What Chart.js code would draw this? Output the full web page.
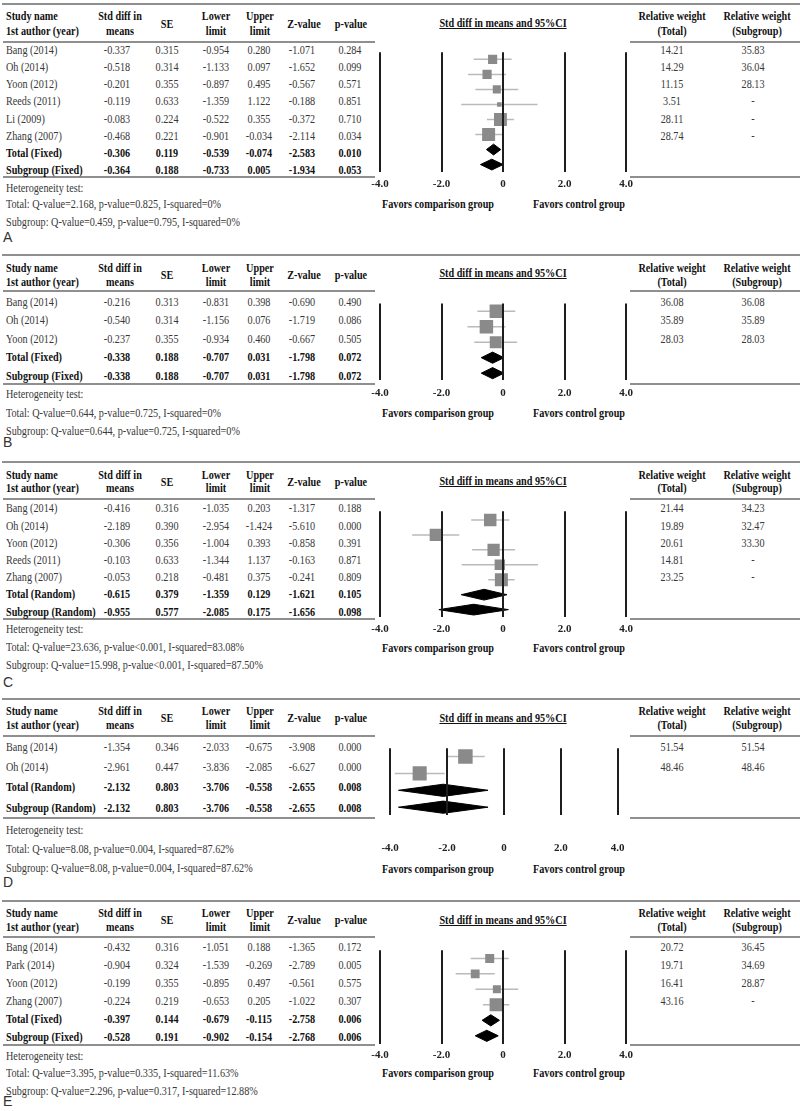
<!DOCTYPE html>
<html><head><meta charset="utf-8">
<script src="https://cdn.jsdelivr.net/npm/chart.js@4.4.1/dist/chart.umd.min.js"></script>
<style>
html,body{margin:0;padding:0;background:#fff;}
#page{position:relative;width:800px;height:1111px;overflow:hidden;font-family:"Liberation Serif","Times New Roman",serif;color:#383838;}
.t{position:absolute;white-space:nowrap;font-size:12px;line-height:1;}
.b{font-weight:bold;color:#111;}
.u{text-decoration:underline;}
.lab{font-family:"Liberation Sans",Arial,sans-serif;font-size:14px;color:#333;}
.hr{position:absolute;height:2px;background:#8f8f8f;}
canvas{position:absolute;}
</style></head><body><div id="page"></div>
<script>
// ---------- axis ticks ----------
const xTickValues = [-4, -2, 0, 2, 4];
const xTickLabels = ['-4.0', '-2.0', '0', '2.0', '4.0'];

// ---------- Panel A ----------
const namesA = ['Bang (2014)', 'Oh (2014)', 'Yoon (2012)', 'Reeds (2011)', 'Li (2009)', 'Zhang (2007)', 'Total (Fixed)', 'Subgroup (Fixed)'];
const estA = [-0.337, -0.518, -0.201, -0.119, -0.083, -0.468, -0.306, -0.364];
const seA = [0.315, 0.314, 0.355, 0.633, 0.224, 0.221, 0.119, 0.188];
const lowerA = [-0.954, -1.133, -0.897, -1.359, -0.522, -0.901, -0.539, -0.733];
const upperA = [0.280, 0.097, 0.495, 1.122, 0.355, -0.034, -0.074, 0.005];
const zA = [-1.071, -1.652, -0.567, -0.188, -0.372, -2.114, -2.583, -1.934];
const pA = [0.284, 0.099, 0.571, 0.851, 0.710, 0.034, 0.010, 0.053];
const wTotalA = [14.21, 14.29, 11.15, 3.51, 28.11, 28.74];
const wSubA = [35.83, 36.04, 28.13, null, null, null];
const hetA = ['Total: Q-value=2.168, p-value=0.825, I-squared=0%', 'Subgroup: Q-value=0.459, p-value=0.795, I-squared=0%'];

// ---------- Panel B ----------
const namesB = ['Bang (2014)', 'Oh (2014)', 'Yoon (2012)', 'Total (Fixed)', 'Subgroup (Fixed)'];
const estB = [-0.216, -0.540, -0.237, -0.338, -0.338];
const seB = [0.313, 0.314, 0.355, 0.188, 0.188];
const lowerB = [-0.831, -1.156, -0.934, -0.707, -0.707];
const upperB = [0.398, 0.076, 0.460, 0.031, 0.031];
const zB = [-0.690, -1.719, -0.667, -1.798, -1.798];
const pB = [0.490, 0.086, 0.505, 0.072, 0.072];
const wTotalB = [36.08, 35.89, 28.03];
const wSubB = [36.08, 35.89, 28.03];
const hetB = ['Total: Q-value=0.644, p-value=0.725, I-squared=0%', 'Subgroup: Q-value=0.644, p-value=0.725, I-squared=0%'];

// ---------- Panel C ----------
const namesC = ['Bang (2014)', 'Oh (2014)', 'Yoon (2012)', 'Reeds (2011)', 'Zhang (2007)', 'Total (Random)', 'Subgroup (Random)'];
const estC = [-0.416, -2.189, -0.306, -0.103, -0.053, -0.615, -0.955];
const seC = [0.316, 0.390, 0.356, 0.633, 0.218, 0.379, 0.577];
const lowerC = [-1.035, -2.954, -1.004, -1.344, -0.481, -1.359, -2.085];
const upperC = [0.203, -1.424, 0.393, 1.137, 0.375, 0.129, 0.175];
const zC = [-1.317, -5.610, -0.858, -0.163, -0.241, -1.621, -1.656];
const pC = [0.188, 0.000, 0.391, 0.871, 0.809, 0.105, 0.098];
const wTotalC = [21.44, 19.89, 20.61, 14.81, 23.25];
const wSubC = [34.23, 32.47, 33.30, null, null];
const hetC = ['Total: Q-value=23.636, p-value<0.001, I-squared=83.08%', 'Subgroup: Q-value=15.998, p-value<0.001, I-squared=87.50%'];

// ---------- Panel D ----------
const namesD = ['Bang (2014)', 'Oh (2014)', 'Total (Random)', 'Subgroup (Random)'];
const estD = [-1.354, -2.961, -2.132, -2.132];
const seD = [0.346, 0.447, 0.803, 0.803];
const lowerD = [-2.033, -3.836, -3.706, -3.706];
const upperD = [-0.675, -2.085, -0.558, -0.558];
const zD = [-3.908, -6.627, -2.655, -2.655];
const pD = [0.000, 0.000, 0.008, 0.008];
const wTotalD = [51.54, 48.46];
const wSubD = [51.54, 48.46];
const hetD = ['Total: Q-value=8.08, p-value=0.004, I-squared=87.62%', 'Subgroup: Q-value=8.08, p-value=0.004, I-squared=87.62%'];

// ---------- Panel E ----------
const namesE = ['Bang (2014)', 'Park (2014)', 'Yoon (2012)', 'Zhang (2007)', 'Total (Fixed)', 'Subgroup (Fixed)'];
const estE = [-0.432, -0.904, -0.199, -0.224, -0.397, -0.528];
const seE = [0.316, 0.324, 0.355, 0.219, 0.144, 0.191];
const lowerE = [-1.051, -1.539, -0.895, -0.653, -0.679, -0.902];
const upperE = [0.188, -0.269, 0.497, 0.205, -0.115, -0.154];
const zE = [-1.365, -2.789, -0.561, -1.022, -2.758, -2.768];
const pE = [0.172, 0.005, 0.575, 0.307, 0.006, 0.006];
const wTotalE = [20.72, 19.71, 16.41, 43.16];
const wSubE = [36.45, 34.69, 28.87, null];
const hetE = ['Total: Q-value=3.395, p-value=0.335, I-squared=11.63%', 'Subgroup: Q-value=2.296, p-value=0.317, I-squared=12.88%'];

// ---------- assemble ----------
const panels = [
  {letter: 'A', names: namesA, est: estA, se: seA, lower: lowerA, upper: upperA, z: zA, p: pA, wTotal: wTotalA, wSub: wSubA, het: hetA},
  {letter: 'B', names: namesB, est: estB, se: seB, lower: lowerB, upper: upperB, z: zB, p: pB, wTotal: wTotalB, wSub: wSubB, het: hetB},
  {letter: 'C', names: namesC, est: estC, se: seC, lower: lowerC, upper: upperC, z: zC, p: pC, wTotal: wTotalC, wSub: wSubC, het: hetC},
  {letter: 'D', names: namesD, est: estD, se: seD, lower: lowerD, upper: upperD, z: zD, p: pD, wTotal: wTotalD, wSub: wSubD, het: hetD},
  {letter: 'E', names: namesE, est: estE, se: seE, lower: lowerE, upper: upperE, z: zE, p: pE, wTotal: wTotalE, wSub: wSubE, het: hetE}
];

// layout (page pixel positions) per panel
const layouts = [
  {top: 4,   h1: 16,  h2: 31,  hLine: 42,  tFirst: 50,    tLast: 170,   bLine: 177,  pTop: 43,  pBot: 172,  pFirst: 50.7,  pLast: 164,   tick: 184,  fav: 204,  het: [188, 204, 222],   label: 237,  sq: 13,   title: 23},
  {top: 255, h1: 268, h2: 282, hLine: 291, tFirst: 301.7, tLast: 375.7, bLine: 384,  pTop: 294, pBot: 380,  pFirst: 302.7, pLast: 372.3, tick: 393,  fav: 413,  het: [394, 413, 431],   label: 442,  sq: 13.5, title: 273},
  {top: 462, h1: 475, h2: 488, hLine: 499, tFirst: 508.3, tLast: 611.7, bLine: 619,  pTop: 502, pBot: 617,  pFirst: 511.5, pLast: 609,   tick: 629,  fav: 648,  het: [629, 647, 665],   label: 682,  sq: 13,   title: 481},
  {top: 699, h1: 711, h2: 725, hLine: 736, tFirst: 746.7, tLast: 807.7, bLine: 818,  pTop: 738, pBot: 815,  pFirst: 747.5, pLast: 806,   tick: 848,  fav: 869,  het: [830, 849, 868],   label: 882,  sq: 14.5, title: 718},
  {top: 901, h1: 913, h2: 927, hLine: 937, tFirst: 947.3, tLast: 1037,  bLine: 1045, pTop: 941, pBot: 1044, pFirst: 950,   pLast: 1035,  tick: 1055, fav: 1073, het: [1056, 1073, 1091], label: 1101, sq: 13,   title: 920}
];

const page = document.getElementById('page');
const colX = [117, 167, 216, 259, 302, 350];
const wColX = [672, 753];

function txt(s, x, y, align, cls) {
  const d = document.createElement('div');
  d.className = 't' + (cls ? ' ' + cls : '');
  d.textContent = s;
  d.style.left = x + 'px';
  d.style.top = y + 'px';
  let tx = '0', org = '0 50%';
  if (align === 'center') { tx = '-50%'; org = '50% 50%'; }
  else if (align === 'right') { tx = '-100%'; org = '100% 50%'; }
  d.style.transformOrigin = org;
  d.style.transform = 'translate(' + tx + ', -50%) scaleX(0.85)';
  page.appendChild(d);
  return d;
}
function hr(x1, x2, y) {
  const d = document.createElement('div');
  d.className = 'hr';
  d.style.left = x1 + 'px';
  d.style.width = (x2 - x1) + 'px';
  d.style.top = (y - 1) + 'px';
  page.appendChild(d);
}

function drawPanel(P, L) {
  const n = P.names.length;
  const nS = P.wTotal.length;
  // rules
  hr(2, 800, L.top);
  hr(3, 375, L.hLine); hr(630, 800, L.hLine);
  hr(3, 375, L.bLine); hr(630, 800, L.bLine);
  // headers
  const mid = (L.h1 + L.h2) / 2;
  txt('Study name', 6, L.h1, 'left', 'b');
  txt('1st author (year)', 6, L.h2, 'left', 'b');
  txt('Std diff in', 120, L.h1, 'center', 'b');
  txt('means', 120, L.h2, 'center', 'b');
  txt('SE', 167, mid, 'center', 'b');
  txt('Lower', 216, L.h1, 'center', 'b');
  txt('limit', 216, L.h2, 'center', 'b');
  txt('Upper', 260, L.h1, 'center', 'b');
  txt('limit', 260, L.h2, 'center', 'b');
  txt('Z-value', 304, mid, 'center', 'b');
  txt('p-value', 351, mid, 'center', 'b');
  txt('Relative weight', 672, L.h1, 'center', 'b');
  txt('(Total)', 672, L.h2, 'center', 'b');
  txt('Relative weight', 757, L.h1, 'center', 'b');
  txt('(Subgroup)', 757, L.h2, 'center', 'b');
  txt('Std diff in means and 95%CI', 503, L.title, 'center', 'b u');
  // rows
  const ts = (L.tLast - L.tFirst) / (n - 1);
  for (let i = 0; i < n; i++) {
    const y = L.tFirst + i * ts;
    const cls = i >= nS ? 'b' : '';
    txt(P.names[i], 6, y, 'left', cls);
    const vals = [P.est[i], P.se[i], P.lower[i], P.upper[i], P.z[i], P.p[i]];
    vals.forEach((v, c) => txt(v.toFixed(3), colX[c], y, 'center', cls));
    if (i < nS) {
      txt(P.wTotal[i].toFixed(2), wColX[0], y, 'center');
      txt(P.wSub[i] === null ? '-' : P.wSub[i].toFixed(2), wColX[1], y, 'center');
    }
  }
  // heterogeneity
  txt('Heterogeneity test:', 6, L.het[0], 'left');
  txt(P.het[0], 6, L.het[1], 'left');
  txt(P.het[1], 6, L.het[2], 'left');
  // favors
  txt('Favors comparison group', 438, L.fav, 'center', 'b');
  txt('Favors control group', 579, L.fav, 'center', 'b');
  // letter
  const lb = document.createElement('div');
  lb.className = 't lab';
  lb.textContent = P.letter;
  lb.style.left = '3px';
  lb.style.top = L.label + 'px';
  lb.style.transform = 'translateY(-50%)';
  page.appendChild(lb);

  // ---------- chart ----------
  const cv = document.createElement('canvas');
  const left = 355, width = 296;
  const height = Math.round(L.tick + 14 - L.pTop);
  cv.width = width; cv.height = height;
  cv.style.left = left + 'px'; cv.style.top = L.pTop + 'px';
  cv.style.width = width + 'px'; cv.style.height = height + 'px';
  page.appendChild(cv);

  const ps = (L.pLast - L.pFirst) / (n - 1);
  const yMin = (L.pTop - L.pFirst) / ps;
  const yMax = (L.pBot - L.pFirst) / ps;
  const maxW = Math.max(...P.wTotal);
  const sqData = [], radii = [];
  for (let i = 0; i < nS; i++) {
    sqData.push({x: P.est[i], y: i});
    radii.push(L.sq * Math.sqrt(P.wTotal[i] / maxW) / (2 * Math.SQRT1_2));
  }
  const datasets = [{
    type: 'scatter', data: sqData, pointStyle: 'rect', pointRadius: radii,
    backgroundColor: '#8a8a8a', borderWidth: 0, order: 0
  }];
  for (let i = 0; i < nS; i++) {
    datasets.push({
      type: 'line', data: [{x: P.lower[i], y: i}, {x: P.upper[i], y: i}],
      borderColor: '#bababa', borderWidth: 1.5, pointRadius: 0, fill: false, order: 2
    });
  }
  const dh = 0.36;
  for (let k = nS; k < n; k++) {
    datasets.push({
      type: 'line',
      data: [{x: P.lower[k], y: k}, {x: P.est[k], y: k - dh}, {x: P.upper[k], y: k}, {x: P.est[k], y: k + dh}, {x: P.lower[k], y: k}],
      borderColor: '#000', backgroundColor: '#000', borderWidth: 1, pointRadius: 0,
      fill: 'shape', tension: 0, order: 1
    });
  }
  const plotH = L.pBot - L.pTop;
  const fs = 11, lh = fs * 1.2;
  new Chart(cv, {
    type: 'scatter',
    data: {datasets},
    options: {
      responsive: false, animation: false, devicePixelRatio: 1, events: [],
      layout: {padding: {left: 25, right: 25, top: 0, bottom: 0}},
      plugins: {legend: {display: false}, tooltip: {enabled: false}},
      scales: {
        x: {
          type: 'linear', min: -4, max: 4, position: 'bottom',
          afterBuildTicks: (s) => { s.ticks = xTickValues.map(v => ({value: v})); },
          afterFit: (s) => { s.height = height - plotH; },
          grid: {color: '#1e1e1e', lineWidth: 2, drawTicks: false, z: 1},
          border: {display: false},
          ticks: {
            padding: L.tick - L.pBot - lh / 2,
            font: {family: 'Liberation Serif', size: fs, weight: 'bold', lineHeight: 1.2},
            color: '#222', maxRotation: 0, autoSkip: false,
            callback: (v) => { const i = xTickValues.indexOf(v); return i >= 0 ? xTickLabels[i] : ''; }
          }
        },
        y: {type: 'linear', display: false, reverse: true, min: yMin, max: yMax}
      }
    }
  });
}

panels.forEach((P, i) => drawPanel(P, layouts[i]));
</script></body></html>
